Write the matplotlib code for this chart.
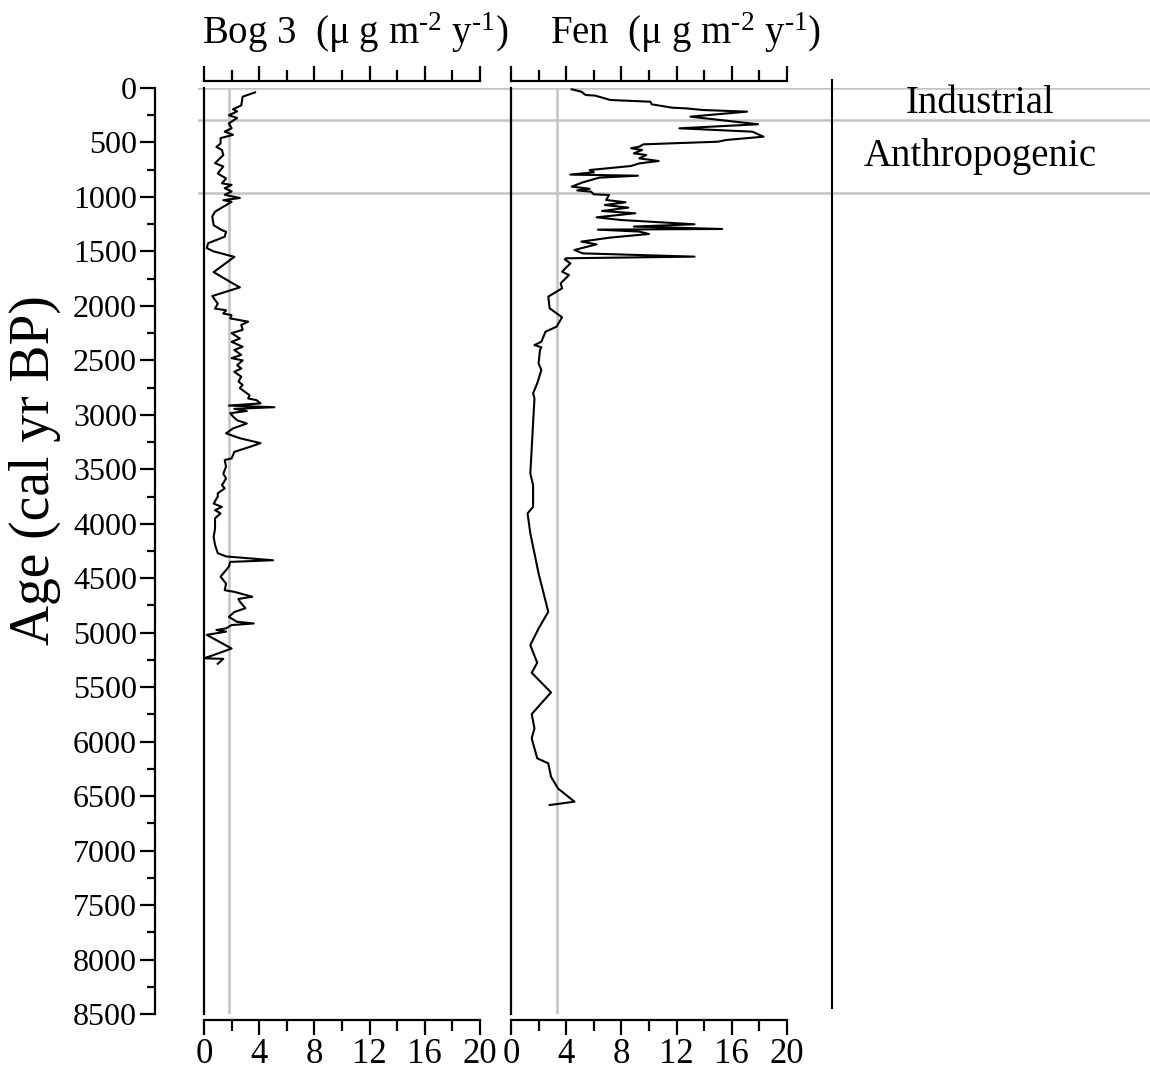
import numpy as np
import matplotlib
matplotlib.use("Agg")
import matplotlib.pyplot as plt
from matplotlib.lines import Line2D
from matplotlib.ticker import MultipleLocator

plt.rcParams['font.family'] = ['Liberation Serif', 'DejaVu Serif']
plt.rcParams['mathtext.fontset'] = 'custom'
plt.rcParams['mathtext.rm'] = 'Liberation Serif'
plt.rcParams['mathtext.it'] = 'Liberation Serif:italic'
plt.rcParams['mathtext.default'] = 'regular'

# Bog 3 flux (ug m-2 y-1) against age (cal yr BP)
bog_age = [40, 80, 160, 195, 215, 250, 275, 325, 370, 400, 430, 460, 510, 540, 570,
           615, 690, 720, 785, 830, 875, 890, 920, 950, 980, 1010, 1030, 1045, 1135,
           1180, 1260, 1305, 1320, 1365, 1395, 1425, 1470, 1500, 1550, 1690, 1780,
           1830, 1910, 1980, 2025, 2040, 2070, 2085, 2115, 2145, 2175, 2220, 2250,
           2300, 2330, 2375, 2405, 2450, 2480, 2500, 2545, 2575, 2605, 2650, 2695,
           2725, 2755, 2820, 2850, 2865, 2895, 2915, 2930, 2945, 2965, 2985, 3015,
           3050, 3080, 3125, 3170, 3215, 3260, 3295, 3340, 3400, 3415, 3475, 3540,
           3585, 3645, 3675, 3720, 3750, 3815, 3845, 3875, 3905, 3950, 4045, 4120,
           4195, 4270, 4300, 4335, 4350, 4395, 4485, 4550, 4610, 4625, 4670, 4690,
           4715, 4775, 4810, 4855, 4900, 4915, 4930, 4960, 4975, 4990, 5020, 5145,
           5205, 5235, 5240, 5285]
bog_val = [3.7, 2.8, 2.7, 2.1, 2.4, 1.8, 2.4, 1.8, 2.0, 1.5, 2.1, 1.2, 1.2, 0.9, 1.3,
           1.4, 0.8, 1.4, 1.0, 1.6, 1.3, 2.0, 1.5, 2.0, 1.5, 2.6, 1.4, 2.0, 0.8,
           0.6, 0.7, 1.3, 1.6, 1.5, 0.9, 0.3, 0.2, 0.7, 2.2, 0.7, 1.9,
           2.6, 0.6, 1.0, 0.8, 1.6, 1.4, 2.0, 1.9, 3.2, 2.7, 2.8, 2.0,
           2.6, 2.0, 2.8, 2.2, 2.7, 2.0, 2.8, 2.4, 2.7, 2.2, 2.7, 2.5,
           2.8, 2.6, 3.3, 3.2, 3.8, 4.1, 1.8, 5.1, 2.2, 3.1, 1.9, 2.1,
           2.4, 3.1, 2.1, 1.6, 2.6, 4.1, 3.3, 2.2, 2.0, 1.5, 1.6, 1.4,
           1.6, 1.3, 1.5, 1.0, 1.0, 0.7, 1.3, 0.8, 1.2, 0.8, 0.8, 0.7,
           0.8, 1.0, 1.6, 5.0, 1.9, 1.8, 1.2, 1.6, 1.5, 2.2, 3.5, 2.5,
           2.6, 3.0, 2.2, 1.8, 2.4, 3.6, 2.0, 1.6, 0.9, 1.6, 0.2, 2.0,
           0.7, 0.0, 1.4, 1.0]

# Fen flux (ug m-2 y-1) against age (cal yr BP)
fen_age = [12, 34, 64, 70, 110, 126, 150, 181, 187, 202, 217, 263, 333, 370, 401, 447,
           477, 493, 517, 538, 553, 569, 600, 615, 646, 670, 692, 716, 753, 774, 795,
           805, 823, 866, 905, 925, 940, 952, 976, 982, 1028, 1049, 1074, 1098, 1129,
           1150, 1187, 1212, 1251, 1272, 1294, 1300, 1318, 1340, 1373, 1410, 1435,
           1487, 1518, 1548, 1563, 1573, 1610, 1686, 1717, 1793, 1839, 1915, 2022,
           2105, 2191, 2237, 2329, 2360, 2380, 2405, 2528, 2589, 2711, 2803, 2849,
           3538, 3645, 3844, 3905, 4089, 4272, 4456, 4808, 4961, 5114, 5276, 5368,
           5548, 5747, 5878, 5970, 6153, 6199, 6322, 6429, 6551, 6582]
fen_val = [4.4, 5.1, 5.4, 6.1, 7.2, 10.1, 10.2, 11.7, 12.7, 13.9, 17.1, 13.0, 17.9, 12.2, 17.5, 18.3,
           15.6, 15.0, 9.6, 9.3, 8.7, 9.5, 8.9, 9.8, 9.3, 10.7, 9.3, 8.7, 5.7, 6.0, 4.3,
           9.2, 6.4, 5.2, 4.4, 5.7, 4.8, 5.8, 6.0, 7.1, 6.9, 8.3, 6.8, 8.5, 6.6,
           9.0, 6.2, 8.0, 13.3, 8.9, 15.3, 6.3, 9.3, 10.0, 7.2, 5.1, 6.2,
           4.6, 5.2, 13.3, 4.0, 3.9, 4.3, 3.7, 4.2, 3.6, 3.7, 2.7, 2.8,
           3.7, 3.3, 2.5, 2.2, 1.7, 2.2, 2.1, 2.0, 2.2, 1.9, 1.6, 1.7,
           1.4, 1.6, 1.6, 1.2, 1.4, 1.7, 2.0, 2.7, 2.0, 1.4, 1.9, 1.5,
           2.9, 1.5, 1.7, 1.5, 1.9, 2.7, 2.9, 3.4, 4.6, 2.8]

bog_mean = 1.8
fen_mean = 3.3
zone_bounds = [0, 290, 960]
zone_names = ['Industrial', 'Anthropogenic']
zone_mid = [145, 625]

W, H = 1150, 1070
def fx(px):
    return px / W
def fy(py):
    return 1 - py / H

fig = plt.figure(figsize=(11.5, 10.7), dpi=100)
bottom = fy(1014)
height = (1014 - 88) / H

# horizontal zone lines across everything
ax_ov = fig.add_axes([fx(198), bottom, (W - 198) / W, height])
ax_ov.set_ylim(8500, 0)
ax_ov.set_xlim(0, 1)
ax_ov.axis('off')
for b in zone_bounds:
    ax_ov.axhline(b, color='#c4c4c4', lw=1.8)
for name, m in zip(zone_names, zone_mid):
    ax_ov.text((980 - 198) / (W - 198), m, name, ha='center', va='center', fontsize=28)

# age axis
ax_age = fig.add_axes([fx(155), bottom, 0.001, height])
ax_age.set_ylim(8500, 0)
ax_age.patch.set_alpha(0)
for s in ['top', 'right', 'bottom']:
    ax_age.spines[s].set_visible(False)
ax_age.spines['left'].set_linewidth(1.6)
ax_age.set_xticks([])
ax_age.yaxis.set_major_locator(MultipleLocator(500))
ax_age.yaxis.set_minor_locator(MultipleLocator(250))
ax_age.tick_params(axis='y', which='major', length=11, width=1.6, labelsize=23, pad=2)
ax_age.tick_params(axis='y', which='minor', length=6, width=1.6)
fig.text(fx(35), fy(470), 'Age (cal yr BP)', rotation=90, ha='center', va='center', fontsize=40)

def panel(x0, vals, ages, mean, title, tx):
    ax = fig.add_axes([fx(x0), bottom, 276 / W, height])
    ax.patch.set_alpha(0)
    ax.set_zorder(2)
    ax.plot(vals, ages, color='black', lw=1.5)
    ax.axvline(mean, color='#c4c4c4', lw=1.8, zorder=0)
    ax.set_xlim(0, 20)
    ax.set_ylim(8500, 0)
    ax.set_yticks([])
    ax.spines['right'].set_visible(False)
    ax.spines['left'].set_linewidth(1.6)
    ax.spines['top'].set_position(('outward', 5))
    ax.spines['bottom'].set_position(('outward', 4.5))
    ax.spines['top'].set_linewidth(1.6)
    ax.spines['bottom'].set_linewidth(1.6)
    ax.xaxis.set_major_locator(MultipleLocator(4))
    ax.xaxis.set_minor_locator(MultipleLocator(2))
    ax.tick_params(axis='x', which='both', top=True, bottom=True, labeltop=False,
                   direction='out', width=1.6)
    ax.tick_params(axis='x', which='major', length=11, labelsize=25, pad=2)
    ax.tick_params(axis='x', which='minor', length=8)
    fig.text(fx(tx), fy(33), title, ha='center', va='center', fontsize=28)
    return ax

panel(204, bog_val, bog_age, bog_mean, r'Bog 3  ($\mu$ g m$^{\text{-}2}$ y$^{\text{-}1}$)', 355)
panel(511, fen_val, fen_age, fen_mean, r'Fen  ($\mu$ g m$^{\text{-}2}$ y$^{\text{-}1}$)', 685)

fig.add_artist(Line2D([fx(832), fx(832)], [fy(80), fy(1008)], transform=fig.transFigure,
                      color='black', lw=1.5))

fig.savefig('out.png', dpi=100)
